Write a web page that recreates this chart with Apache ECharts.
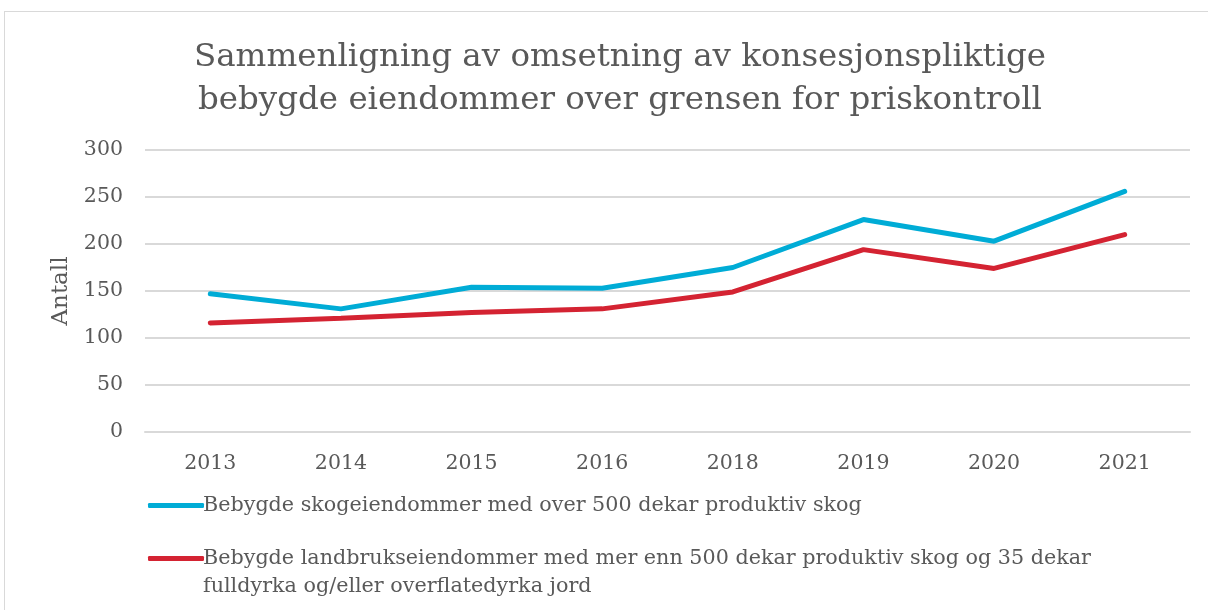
<!DOCTYPE html>
<html>
<head>
<meta charset="utf-8">
<script src="https://cdn.jsdelivr.net/npm/echarts@6/dist/echarts.min.js"></script>
<style>
  html, body { margin: 0; padding: 0; background: #fff; }
  #frame {
    position: absolute;
    left: 4px; top: 11px;
    width: 1210px; height: 610px;
    border: 1px solid #d9d9d9;
    box-sizing: border-box;
  }
  #chart { position: absolute; left: 0; top: 0; width: 1208px; height: 610px; }
</style>
</head>
<body>
<div id="frame"></div>
<div id="chart"></div>
<script>
// årstall og verdier lest av figuren
const years = ['2013', '2014', '2015', '2016', '2018', '2019', '2020', '2021'];
const skog = [147, 131, 154, 153, 175, 226, 203, 256];
const landbruk = [116, 121, 127, 131, 149, 194, 174, 210];
const seriesNames = [
  'Bebygde skogeiendommer med over 500 dekar produktiv skog',
  'Bebygde landbrukseiendommer med mer enn 500 dekar produktiv skog og 35 dekar fulldyrka og/eller overflatedyrka jord'
];

const font = 'DejaVu Serif';
const grey = '#595959';

let myChart = echarts.init(document.getElementById('chart'));

let legendBase = {
  orient: 'vertical',
  left: 143,
  itemWidth: 56,
  itemHeight: 5,
  itemGap: 8,
  icon: 'roundRect',
  textStyle: { fontFamily: font, fontSize: 20.7, color: grey, padding: [0, 0, 0, -6] }
};

myChart.setOption({
  animation: false,
  title: {
    text: 'Sammenligning av omsetning av konsesjonspliktige\nbebygde eiendommer over grensen for priskontroll',
    left: 615,
    top: 31,
    textAlign: 'center',
    textStyle: {
      fontFamily: font,
      fontSize: 32.5,
      fontWeight: 'normal',
      color: grey,
      lineHeight: 43
    }
  },
  legend: [
    Object.assign({}, legendBase, { top: 490, data: [seriesNames[0]] }),
    Object.assign({}, legendBase, {
      top: 543,
      data: [seriesNames[1]],
      formatter: () => 'Bebygde landbrukseiendommer med mer enn 500 dekar produktiv skog og 35 dekar'
    })
  ],
  graphic: [{
    type: 'text',
    left: 203,
    top: 576,
    style: {
      text: 'fulldyrka og/eller overflatedyrka jord',
      font: '20.7px "DejaVu Serif"',
      fill: grey
    }
  }],
  grid: {
    left: 145,
    right: 18,
    top: 150,
    bottom: 178
  },
  xAxis: {
    type: 'category',
    data: years,
    boundaryGap: true,
    axisLine: { show: true, lineStyle: { color: '#d9d9d9', width: 2 } },
    axisTick: { show: false },
    axisLabel: { fontFamily: font, fontSize: 20.5, color: grey, margin: 21 }
  },
  yAxis: {
    type: 'value',
    min: 0,
    max: 300,
    interval: 50,
    name: 'Antall',
    nameLocation: 'middle',
    nameRotate: 90,
    nameGap: 72,
    nameTextStyle: { fontFamily: font, fontSize: 23, color: grey },
    axisLine: { show: false },
    axisTick: { show: false },
    splitLine: { lineStyle: { color: '#d9d9d9', width: 2 } },
    axisLabel: { fontFamily: font, fontSize: 20.5, color: grey, margin: 22 }
  },
  series: [{
    name: seriesNames[0],
    type: 'line',
    data: skog,
    symbol: 'none',
    lineStyle: { width: 5, color: '#00acd6', cap: 'round' },
    itemStyle: { color: '#00acd6' }
  }, {
    name: seriesNames[1],
    type: 'line',
    data: landbruk,
    symbol: 'none',
    lineStyle: { width: 5, color: '#d42332', cap: 'round' },
    itemStyle: { color: '#d42332' }
  }]
});

window.addEventListener('resize', () => {
  myChart.resize();
});
</script>
</body>
</html>
